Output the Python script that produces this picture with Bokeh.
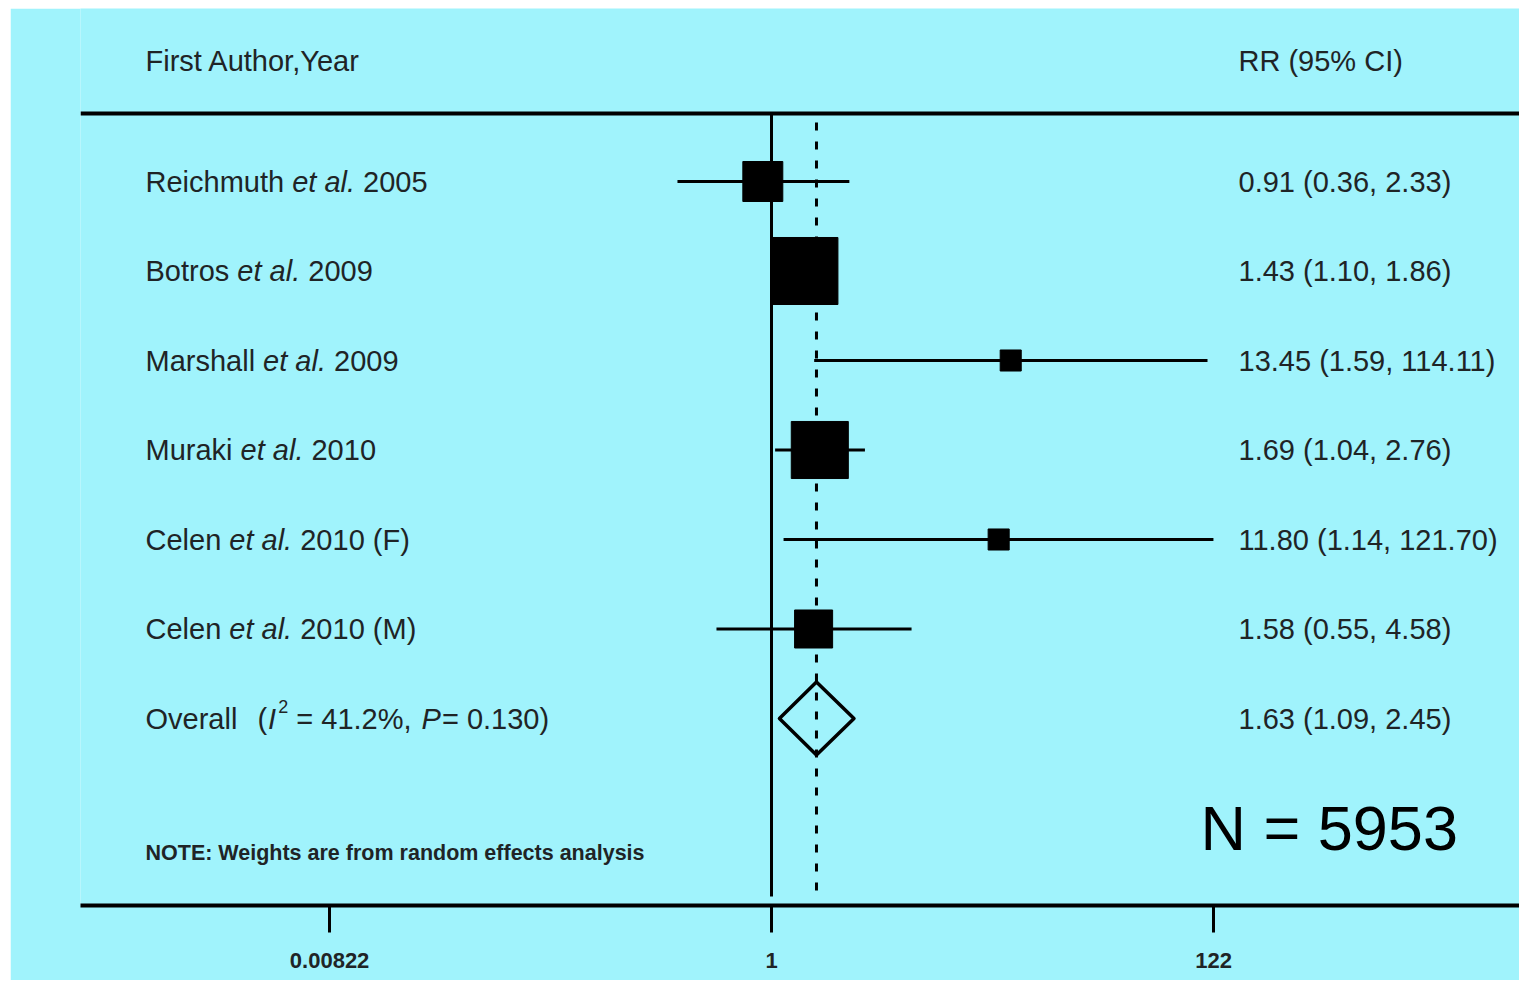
import math
from bokeh.plotting import figure
from bokeh.models import Range1d, FixedTicker, Span, LinearScale
from bokeh.core.properties import value
from bokeh.embed import file_html
from bokeh.resources import INLINE

# ---------------- data ----------------
studies = ["Reichmuth", "Botros", "Marshall", "Muraki", "Celen", "Celen"]
year_tags = ["2005", "2009", "2009", "2010", "2010 (F)", "2010 (M)"]
rr = [0.91, 1.43, 13.45, 1.69, 11.80, 1.58]
ci_lo = [0.36, 1.10, 1.59, 1.04, 1.14, 0.55]
ci_hi = [2.33, 1.86, 114.11, 2.76, 121.70, 4.58]
weights = [13.7, 38.5, 3.8, 27.9, 3.8, 12.4]   # random-effects weights (%)
overall_rr, overall_lo, overall_hi = 1.63, 1.09, 2.45
i2, p_het = 41.2, 0.130
n_total = 5953
ticks = [0.00822, 1, 122]
tick_labels = ["0.00822", "1", "122"]
header_left = "First Author,Year"
header_right = "RR (95% CI)"
note = "NOTE: Weights are from random effects analysis"

# ---------------- layout constants (page pixels) ----------------
BG = "#a0f3fc"
FONT = "Liberation Sans"
TXT = "#1f2426"
OFF_X, OFF_Y = 10, 8     # canvas origin on the page
W, H = 1509, 972
FRAME_L = 80             # page x of frame left
FRAME_R = OFF_X + W
FRAME_T = OFF_Y
FRAME_B = 905            # page y of frame bottom (axis line)
ROW0 = 181               # page y of first row
ROW_H = 89.5             # row spacing (px)
PX_PER_LN = 92.04        # px per natural-log unit
X_ONE = 771              # page x of RR = 1


def x_from_px(px):
    return math.exp((px - X_ONE) / PX_PER_LN)


def y_from_px(py):
    return (py - ROW0) / ROW_H


ARIAL = {
    'A': 667, 'B': 667, 'C': 722, 'D': 722, 'E': 667, 'F': 611, 'G': 778, 'H': 722,
    'I': 278, 'J': 500, 'K': 667, 'L': 556, 'M': 833, 'N': 722, 'O': 778, 'P': 667,
    'Q': 778, 'R': 722, 'S': 667, 'T': 611, 'U': 722, 'V': 667, 'W': 944, 'X': 667,
    'Y': 667, 'Z': 611,
    'a': 556, 'b': 556, 'c': 500, 'd': 556, 'e': 556, 'f': 278, 'g': 556, 'h': 556,
    'i': 222, 'j': 222, 'k': 500, 'l': 222, 'm': 833, 'n': 556, 'o': 556, 'p': 556,
    'q': 556, 'r': 333, 's': 500, 't': 278, 'u': 556, 'v': 500, 'w': 722, 'x': 500,
    'y': 500, 'z': 500, ' ': 278, '.': 278, ',': 278, '(': 333, ')': 333, '%': 889,
    '=': 584, ':': 278, '-': 333,
}


def tw(s, size):
    return sum(ARIAL.get(ch, 556) for ch in s) / 1000.0 * size


FS = 29  # main text size (px)

p = figure(
    width=W, height=H,
    x_axis_type="log",
    x_range=Range1d(x_from_px(FRAME_L), x_from_px(FRAME_R)),
    y_range=Range1d(y_from_px(FRAME_B), y_from_px(FRAME_T)),
    y_axis_location=None,
    toolbar_location=None,
    output_backend="svg",
    min_border_left=FRAME_L - OFF_X, min_border_right=0,
    min_border_top=FRAME_T - OFF_Y, min_border_bottom=OFF_Y + H - FRAME_B,
    background_fill_color=BG, border_fill_color=BG,
    outline_line_color=None,
)
p.margin = (OFF_Y, 0, 0, OFF_X)
p.grid.visible = False
p.extra_x_ranges = {"px": Range1d(FRAME_L, FRAME_R)}
p.extra_x_scales = {"px": LinearScale()}

# x axis
ax = p.xaxis[0]
ax.ticker = FixedTicker(ticks=ticks)
ax.major_label_overrides = dict(zip(ticks, tick_labels))
ax.axis_line_width = 4
ax.axis_line_color = "black"
ax.major_tick_line_width = 3
ax.major_tick_line_color = "black"
ax.major_tick_in = 0
ax.major_tick_out = 27
ax.minor_tick_in = 0
ax.minor_tick_out = 0
ax.major_label_standoff = 20
ax.major_label_text_font = FONT
ax.major_label_text_font_size = "22px"
ax.major_label_text_font_style = "bold"
ax.major_label_text_color = TXT

# top rule
p.add_layout(Span(location=y_from_px(113), dimension="width",
                  line_color="black", line_width=4))

rows = list(range(len(studies)))
ov_row = len(studies)
y_bottom = y_from_px(896)

# null line and overall dashed line
p.segment(x0=[1], x1=[1], y0=[y_from_px(113)], y1=[y_bottom],
          line_color="black", line_width=3)
p.segment(x0=[overall_rr], x1=[overall_rr], y0=[y_from_px(122)], y1=[y_bottom],
          line_color="black", line_width=3, line_dash="8 11")

# CI lines and weighted squares
p.segment(x0=ci_lo, x1=ci_hi, y0=rows, y1=rows, line_color="black", line_width=3)
sizes = [10.8 * math.sqrt(w) for w in weights]
p.scatter(x=rr, y=rows, marker="square", size=sizes,
          fill_color="black", line_color="black", line_width=1)

# overall diamond
dh = 36.5 / ROW_H
p.patch(x=[overall_lo, overall_rr, overall_hi, overall_rr],
        y=[ov_row, ov_row - dh, ov_row, ov_row + dh],
        fill_color=None, line_color="black", line_width=3.5, line_join="round")

# ---------------- texts ----------------
LX = 145
RX = 1238
common = dict(x_range_name="px", text_font=value(FONT), text_color=TXT,
              text_baseline="middle", text_align="left")

# headers
p.text(x=[LX], y=[y_from_px(60)], text=[header_left], text_font_size=f"{FS}px", **common)
p.text(x=[RX], y=[y_from_px(60)], text=[header_right], text_font_size=f"{FS}px", **common)

# study labels with italic "et al." (no leading/trailing spaces: SVG collapses them)
x1 = [LX] * len(studies)
x2 = [LX + tw(s + " ", FS) for s in studies]
x3 = [LX + tw(s + " ", FS) + tw("et al. ", FS) for s in studies]
p.text(x=x1, y=rows, text=studies, text_font_size=f"{FS}px", **common)
p.text(x=x2, y=rows, text=["et al."] * len(studies), text_font_size=f"{FS}px",
       text_font_style="italic", **common)
p.text(x=x3, y=rows, text=year_tags, text_font_size=f"{FS}px", **common)

# overall label: "Overall  (I² = 41.2%, P= 0.130)"
sp = tw(" ", FS)
parts = [("Overall", "normal", FS, 0.0, 2 * sp + 4),
         ("(", "normal", FS, 0.0, 1),
         ("I", "italic", FS, 0.0, 2),
         ("2", "normal", 18, -12.0, sp),
         (f"= {i2:.1f}%,", "normal", FS, 0.0, sp + 2),
         ("P", "italic", FS, 0.0, 1),
         (f"= {p_het:.3f})", "normal", FS, 0.0, 0)]
cx = LX
for txt, style, size, dy, gap in parts:
    p.text(x=[cx], y=[ov_row + dy / ROW_H], text=[txt], text_font_size=f"{size}px",
           text_font_style=style, **common)
    cx += tw(txt, size) + gap

# right column estimates
est_txt = [f"{a:.2f} ({b:.2f}, {c:.2f})" for a, b, c in zip(rr, ci_lo, ci_hi)]
est_txt.append(f"{overall_rr:.2f} ({overall_lo:.2f}, {overall_hi:.2f})")
p.text(x=[RX] * len(est_txt), y=rows + [ov_row], text=est_txt,
       text_font_size=f"{FS}px", **common)

# note
p.text(x=[LX], y=[y_from_px(852)], text=[note], text_font_size="21.5px",
       text_font_style="bold", **common)

# N
p.text(x=[1200], y=[y_from_px(827)], text=[f"N = {n_total}"], text_font_size="63px",
       x_range_name="px", text_font=value(FONT), text_color="black",
       text_baseline="middle", text_align="left")

open("out.html", "w").write(file_html(p, INLINE))
